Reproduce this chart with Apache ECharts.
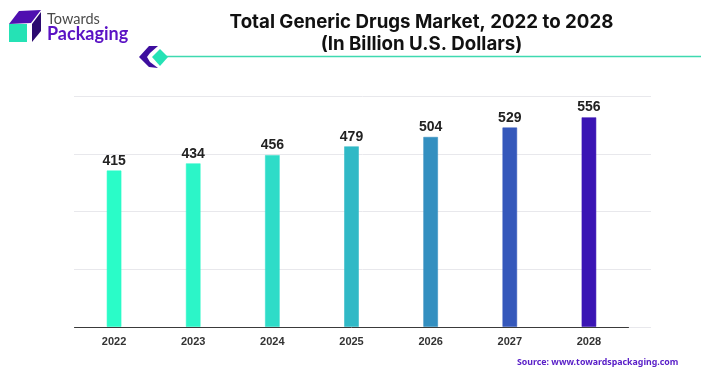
<!DOCTYPE html>
<html>
<head>
<meta charset="utf-8">
<style>
  html, body { margin: 0; padding: 0; background: #fff; }
  #chart { width: 701px; height: 376px; }
</style>
<script src="https://cdn.jsdelivr.net/npm/echarts@6/dist/echarts.min.js"></script>
</head>
<body>
<div id="chart"></div>
<script>
const years = ['2022', '2023', '2024', '2025', '2026', '2027', '2028'];
const marketValues = [415, 434, 456, 479, 504, 529, 556];
const barColors = ['#2afcc8', '#2cf5c8', '#2edcc8', '#30b9c6', '#338fc0', '#3558bb', '#3a14b4'];
const titleLines = 'Total Generic Drugs Market, 2022 to 2028\n(In Billion U.S. Dollars)';
const sourceText = 'Source: www.towardspackaging.com';

const chart = echarts.init(document.getElementById('chart'), null, { renderer: 'canvas' });

const option = {
  animation: false,
  backgroundColor: '#fff',
  title: {
    text: titleLines,
    left: 416.5,
    top: 6,
    textAlign: 'center',
    textStyle: {
      fontFamily: 'Inter',
      fontSize: 18.7,
      fontWeight: 'bold',
      color: '#111',
      lineHeight: 22
    }
  },
  // the grid lines run further right than the axis line, so they get their own grid
  grid: [
    { left: 74, right: 50, top: 96, height: 231 },
    { left: 74.5, right: 72.5, top: 96, height: 231 }
  ],
  xAxis: [
    {
      gridIndex: 0,
      type: 'category',
      data: years,
      axisLine: { show: false },
      axisTick: { show: false },
      axisLabel: { show: false }
    },
    {
      gridIndex: 1,
      type: 'category',
      data: years,
      axisLine: { show: true, lineStyle: { color: '#3a3a3a', width: 1 } },
      axisTick: { show: false },
      axisLabel: {
        margin: 9,
        fontFamily: 'Liberation Sans',
        fontSize: 11,
        fontWeight: 'bold',
        color: '#333'
      }
    }
  ],
  yAxis: [
    {
      gridIndex: 0,
      type: 'value',
      min: 0,
      max: 612,
      interval: 153,
      axisLine: { show: false },
      axisTick: { show: false },
      axisLabel: { show: false },
      splitLine: { show: true, lineStyle: { color: '#e8e8ec', width: 1 } }
    },
    {
      gridIndex: 1,
      type: 'value',
      min: 0,
      max: 612,
      interval: 153,
      axisLine: { show: false },
      axisTick: { show: false },
      axisLabel: { show: false },
      splitLine: { show: false }
    }
  ],
  series: [
    {
      type: 'bar',
      xAxisIndex: 1,
      yAxisIndex: 1,
      barWidth: 15,
      data: marketValues.map((v, i) => ({
        value: v,
        itemStyle: {
          color: barColors[i],
          borderColor: echarts.color.modifyAlpha(barColors[i], 0.55),
          borderWidth: 1
        }
      })),
      label: {
        show: true,
        position: 'top',
        distance: 2.5,
        fontFamily: 'Liberation Sans',
        fontSize: 14,
        fontWeight: 'bold',
        color: '#222'
      }
    }
  ],
  graphic: [
    // logo cube
    { type: 'polygon', shape: { points: [[9, 24], [19, 11], [41, 10], [31, 23]] }, style: { fill: '#4f0fb0' } },
    { type: 'polygon', shape: { points: [[32, 24], [41, 12], [41, 31], [32, 42]] }, style: { fill: '#2c0a70' } },
    { type: 'rect', shape: { x: 9, y: 24, width: 18, height: 18 }, style: { fill: '#25e2b5' } },
    { type: 'text', left: 47, top: 12, style: { text: 'Towards', fontFamily: 'Lato', fontSize: 14.5, fill: '#4a4a4a' } },
    { type: 'text', left: 47, top: 25, style: { text: 'Packaging', fontFamily: 'Lato', fontSize: 18, fontWeight: 'bold', fill: '#5a12c4' } },
    // header rule with its marker
    { type: 'line', shape: { x1: 165, y1: 56.5, x2: 701, y2: 56.5 }, style: { stroke: '#3fd9b0', lineWidth: 1.5 } },
    { type: 'polygon', shape: { points: [[139, 57], [149, 46], [158, 46], [150, 53], [147, 57], [150, 62], [158, 68], [149, 67]] }, style: { fill: '#3d0e9e' } },
    { type: 'polygon', shape: { points: [[160, 49], [168, 57], [160, 66], [152, 57]] }, style: { fill: '#25e2b5' } },
    // source line
    { type: 'text', left: 517, top: 358, style: { text: sourceText, fontFamily: 'Noto Sans', fontSize: 8.8, fontWeight: 'bold', fill: '#5a20c8' } }
  ]
};

chart.setOption(option);

window.addEventListener('resize', () => {
  chart.resize();
});
</script>
</body>
</html>
